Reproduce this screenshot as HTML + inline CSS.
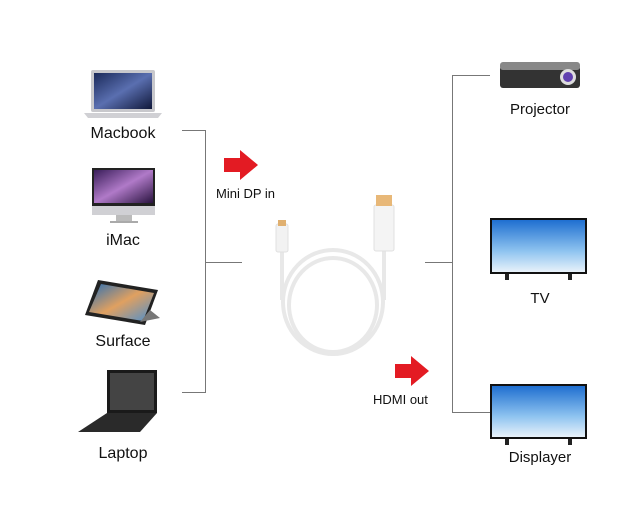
<!DOCTYPE html>
<html><head><meta charset="utf-8"><style>
html,body{margin:0;padding:0;background:#fff;}
svg{display:block;font-family:"Liberation Sans",sans-serif;}
</style></head><body>
<svg width="640" height="529" viewBox="0 0 640 529" xmlns="http://www.w3.org/2000/svg">
<defs>
<linearGradient id="scr" x1="0" y1="0" x2="1" y2="1"><stop offset="0" stop-color="#1b2a5a"/><stop offset="0.5" stop-color="#5a6fb0"/><stop offset="1" stop-color="#10183a"/></linearGradient>
<linearGradient id="imac" x1="0" y1="0" x2="1" y2="1"><stop offset="0" stop-color="#3a1e5a"/><stop offset="0.5" stop-color="#b07ac8"/><stop offset="1" stop-color="#2a1440"/></linearGradient>
<linearGradient id="sky" x1="0" y1="0" x2="0" y2="1"><stop offset="0" stop-color="#1f6fd0"/><stop offset="0.6" stop-color="#8fc4f0"/><stop offset="1" stop-color="#e8f2fa"/></linearGradient>
<linearGradient id="surf" x1="0" y1="0" x2="1" y2="1"><stop offset="0" stop-color="#2a6fb5"/><stop offset="0.5" stop-color="#e0a060"/><stop offset="1" stop-color="#4a8fd0"/></linearGradient>
</defs>
<rect width="640" height="529" fill="#fff"/>
<!-- left bracket -->
<g stroke="#777" stroke-width="1" fill="none">
<path d="M182 130.5H205.5V392.5H182"/><path d="M205 262.5H242"/>
<path d="M490 75.5H452.5V412.5H490"/><path d="M425 262.5H452"/>
</g>
<!-- Macbook -->
<rect x="91" y="70" width="64" height="42" rx="2" fill="#c8c8cc"/>
<rect x="94" y="73" width="58" height="36" fill="url(#scr)"/>
<path d="M84 113H162L158 118H88Z" fill="#d0d0d4"/>
<text x="123" y="138" font-size="16" text-anchor="middle" fill="#111">Macbook</text>
<!-- iMac -->
<rect x="92" y="168" width="63" height="40" fill="#222"/>
<rect x="94" y="170" width="59" height="33" fill="url(#imac)"/>
<rect x="92" y="206" width="63" height="9" fill="#d0d0d4"/>
<rect x="116" y="215" width="16" height="6" fill="#bbb"/>
<rect x="110" y="221" width="28" height="2" fill="#aaa"/>
<text x="123" y="245" font-size="16" text-anchor="middle" fill="#111">iMac</text>
<!-- Surface -->
<path d="M98 280L158 290L145 325L85 315Z" fill="#222"/>
<path d="M101 284L154 293L143 321L89 312Z" fill="url(#surf)"/>
<path d="M140 322L160 318L150 310Z" fill="#777"/>
<text x="123" y="346" font-size="16" text-anchor="middle" fill="#111">Surface</text>
<!-- Laptop -->
<path d="M107 370H157V413H107Z" fill="#1a1a1a"/>
<rect x="110" y="373" width="44" height="37" fill="#444"/>
<path d="M107 413H157L140 432H78Z" fill="#2a2a2a"/>
<text x="123" y="458" font-size="16" text-anchor="middle" fill="#111">Laptop</text>
<!-- arrows -->
<path d="M224 158H240V150L258 165L240 180V172H224Z" fill="#e31b23"/>
<text x="216" y="198" font-size="13" fill="#111">Mini DP in</text>
<path d="M395 364H411V356L429 371L411 386V378H395Z" fill="#e31b23"/>
<text x="373" y="404" font-size="13" fill="#111">HDMI out</text>
<!-- cable -->
<g fill="none" stroke="#e8e8e8" stroke-width="4">
<path d="M282 250V300"/><path d="M384 250V300"/>
<ellipse cx="333" cy="302" rx="50" ry="52"/>
<ellipse cx="333" cy="305" rx="44" ry="47"/>
</g>
<rect x="276" y="224" width="12" height="28" rx="2" fill="#f2f2f2" stroke="#e0e0e0"/>
<rect x="278" y="220" width="8" height="6" fill="#e0b070"/>
<rect x="374" y="205" width="20" height="46" rx="2" fill="#f4f4f4" stroke="#e0e0e0"/>
<rect x="376" y="195" width="16" height="11" fill="#e8b878"/>
<!-- Projector -->
<rect x="500" y="66" width="80" height="22" rx="3" fill="#333"/>
<rect x="500" y="62" width="80" height="8" rx="3" fill="#888"/>
<circle cx="568" cy="77" r="8" fill="#ddd"/><circle cx="568" cy="77" r="5" fill="#6040b0"/>
<text x="540" y="114" font-size="15" text-anchor="middle" fill="#111">Projector</text>
<!-- TV -->
<rect x="490" y="218" width="97" height="56" fill="#111"/>
<rect x="492" y="220" width="93" height="52" fill="url(#sky)"/>
<rect x="505" y="274" width="4" height="6" fill="#222"/><rect x="568" y="274" width="4" height="6" fill="#222"/>
<text x="540" y="303" font-size="15" text-anchor="middle" fill="#111">TV</text>
<!-- Displayer -->
<rect x="490" y="384" width="97" height="55" fill="#111"/>
<rect x="492" y="386" width="93" height="51" fill="url(#sky)"/>
<rect x="505" y="439" width="4" height="6" fill="#222"/><rect x="568" y="439" width="4" height="6" fill="#222"/>
<text x="540" y="462" font-size="15" text-anchor="middle" fill="#111">Displayer</text>
</svg>
</body></html>
